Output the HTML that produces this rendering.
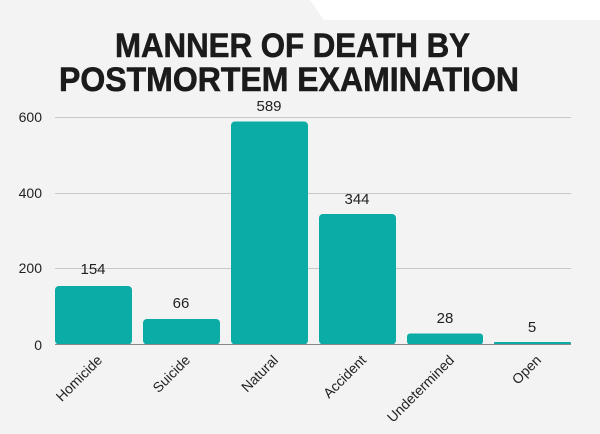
<!DOCTYPE html>
<html><head><style>body{margin:0;background:#f3f3f3}svg{display:block}</style></head><body>
<svg width="600" height="434" xmlns="http://www.w3.org/2000/svg" font-family="Liberation Sans, sans-serif">
<rect width="600" height="434" fill="#f3f3f3"/>
<polygon points="310,0 600,0 600,20 324,20" fill="#ffffff"/>
<g font-weight="bold" font-size="34" fill="#1b1b1b" stroke="#1b1b1b" stroke-width="0.6">
<text x="115" y="57" textLength="355" lengthAdjust="spacingAndGlyphs">MANNER OF DEATH BY</text>
<text x="59" y="91" textLength="460" lengthAdjust="spacingAndGlyphs">POSTMORTEM EXAMINATION</text>
</g>
<g stroke="#c8c8c8" stroke-width="1">
<line x1="55" x2="571" y1="117.5" y2="117.5"/>
<line x1="55" x2="571" y1="193.5" y2="193.5"/>
<line x1="55" x2="571" y1="268.5" y2="268.5"/>
</g>
<g font-size="14" fill="#222" text-anchor="end">
<text x="42" y="122">600</text><text x="42" y="198">400</text><text x="42" y="273">200</text><text x="42" y="350">0</text>
</g>
<g fill="#0aaca5">
<rect x="55" y="286" width="77" height="58.5" rx="4"/>
<rect x="143" y="319" width="77" height="25.5" rx="4"/>
<rect x="231" y="121.5" width="77" height="223" rx="4"/>
<rect x="319" y="214" width="77" height="130.5" rx="4"/>
<rect x="407" y="333.5" width="76" height="11" rx="3"/>
<rect x="494" y="342" width="77" height="2.5" rx="1"/>
</g>
<line x1="55" x2="571" y1="344.5" y2="344.5" stroke="#888" stroke-width="1"/>
<g font-size="15" fill="#222" text-anchor="middle">
<text x="93" y="274">154</text><text x="181" y="308">66</text><text x="269" y="111">589</text>
<text x="357" y="204">344</text><text x="445" y="323">28</text><text x="532" y="332">5</text>
</g>
<g font-size="14" fill="#222" text-anchor="end">
<text transform="translate(103,361) rotate(-45)">Homicide</text>
<text transform="translate(191,361) rotate(-45)">Suicide</text>
<text transform="translate(279,361) rotate(-45)">Natural</text>
<text transform="translate(367,361) rotate(-45)">Accident</text>
<text transform="translate(455,361) rotate(-45)">Undetermined</text>
<text transform="translate(542,361) rotate(-45)">Open</text>
</g>
</svg>
</body></html>
